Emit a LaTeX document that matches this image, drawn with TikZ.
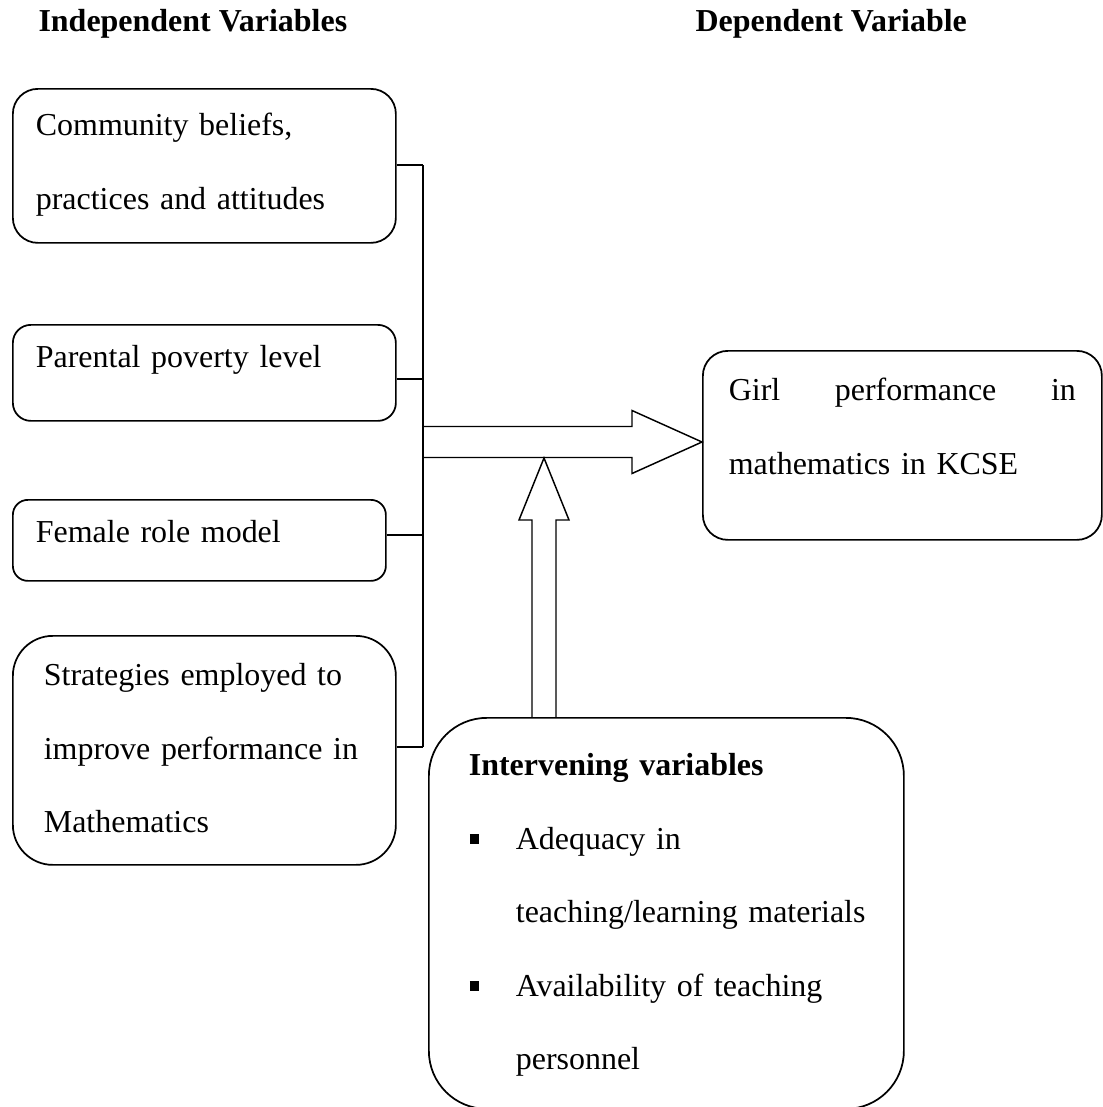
\documentclass[tikz,border=0pt]{standalone}
\usepackage{fontspec}
\setmainfont{Liberation Serif}
\usetikzlibrary{calc}
\newlength{\unitpx}
\setlength{\unitpx}{0.3755pt}
\newcommand{\varfont}{\fontsize{12pt}{27.6pt}\selectfont}
\newcommand{\itembullet}{\makebox[47\unitpx][l]{\hspace*{1\unitpx}\rule[2.2pt]{3.6pt}{3.4pt}}}

\tikzset{
    varbox/.style={draw, line width=0.65pt, anchor=north west, inner ysep=0pt, align=left, font=\varfont},
    heading/.style={anchor=base west, inner sep=0pt, font=\varfont\bfseries},
    link/.style={line width=0.45pt},
    blockarrow/.style={line width=0.55pt, line join=miter}
}

\begin{document}
\begin{tikzpicture}[x=\unitpx, y=-1\unitpx]
    \useasboundingbox (0,0) rectangle (1102,1107);

    \node[heading] (indephead) at (38,31) {Independent Variables};
    \node[heading] (dephead) at (695,31) {Dependent Variable};

    \node[varbox, rounded corners=25\unitpx, minimum width=383\unitpx, text width=337\unitpx,
          inner xsep=23\unitpx, text height=47\unitpx, text depth=107\unitpx]
        (community) at (12,88) {Community beliefs,\\practices and attitudes};
    \node[varbox, rounded corners=18\unitpx, minimum width=383\unitpx, text width=337\unitpx,
          inner xsep=23\unitpx, text height=43\unitpx, text depth=53\unitpx]
        (poverty) at (12,324) {Parental poverty level};
    \node[varbox, rounded corners=15\unitpx, minimum width=373\unitpx, text width=327\unitpx,
          inner xsep=23\unitpx, text height=43\unitpx, text depth=38\unitpx]
        (rolemodel) at (12,499) {Female role model};
    \node[varbox, rounded corners=40\unitpx, minimum width=383\unitpx, text width=321\unitpx,
          inner xsep=31\unitpx, text height=50\unitpx, text depth=179\unitpx]
        (strategies) at (12,635) {Strategies employed to\\improve performance in\\Mathematics};

    \node[varbox, rounded corners=25\unitpx, minimum width=399\unitpx, text width=347\unitpx,
          inner xsep=26\unitpx, text height=50\unitpx, text depth=139\unitpx]
        (performance) at (702,350) {Girl\hfill performance\hfill in\\mathematics in KCSE};

    \node[varbox, rounded corners=58\unitpx, minimum width=475\unitpx, text width=395\unitpx,
          inner xsep=40\unitpx, text height=58\unitpx, text depth=333\unitpx]
        (intervening) at (428,717) {\textbf{Intervening variables}\\
        \itembullet Adequacy in\\
        \mbox{\hspace*{47\unitpx}teaching/learning materials}\\
        \itembullet Availability of teaching\\
        \hspace*{47\unitpx}personnel};

    \coordinate (bus1) at (423,165);
    \coordinate (bus2) at (423,379);
    \coordinate (bus3) at (423,535);
    \coordinate (bus4) at (423,747);
    \draw[link] (bus1) -- (bus4);
    \foreach \nd/\bp in {community/bus1, poverty/bus2, rolemodel/bus3, strategies/bus4}
        \draw[link] (\nd.east |- \bp) -- (\bp);

    \coordinate (htail) at (423,442);
    \coordinate (htip) at (performance.west |- htail);
    \draw[blockarrow] ($(htail)+(0,-15.5)$) -- ($(htip)+(-70,-15.5)$) -- ++(0,-16) -- (htip)
        -- ++(-70,31.5) -- ++(0,-16) -- ($(htail)+(0,15.5)$) -- cycle;

    \coordinate (vtip) at (544,458);
    \coordinate (vbase) at (vtip |- intervening.north);
    \draw[blockarrow] ($(vbase)+(-12,0)$) -- ($(vtip)+(-12,62)$) -- ++(-13,0) -- (vtip)
        -- ++(25,62) -- ++(-13,0) -- ($(vbase)+(12,0)$);
\end{tikzpicture}
\end{document}
